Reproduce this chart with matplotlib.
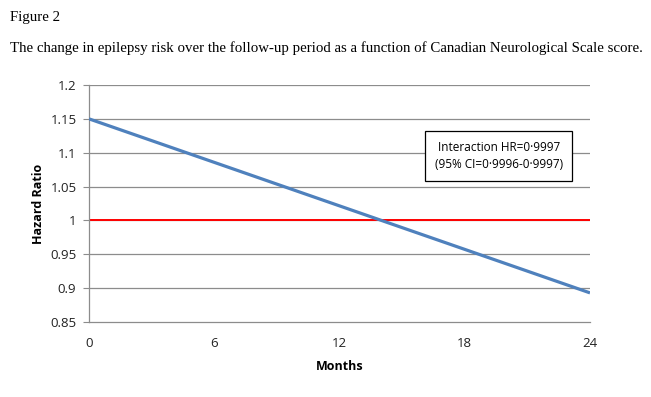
import matplotlib
matplotlib.use("Agg")
import matplotlib.pyplot as plt

months = [0, 24]
hazard_ratio = [1.15, 0.893]
reference = [1.0, 1.0]
x_ticks = [0, 6, 12, 18, 24]
y_ticks = [0.85, 0.9, 0.95, 1.0, 1.05, 1.1, 1.15, 1.2]
y_labels = ["0.85", "0.9", "0.95", "1", "1.05", "1.1", "1.15", "1.2"]

fig = plt.figure(figsize=(6.51, 3.97), dpi=100)
ax = fig.add_axes([89/651, 75/397, 501/651, 237/397])

for y in y_ticks[1:]:
    ax.axhline(y, color="#8c8c8c", lw=0.9, zorder=1)
ax.plot(months, hazard_ratio, color="#4F81BD", lw=2.3, zorder=3, solid_capstyle="butt")
ax.plot(months, reference, color="#FF0000", lw=1.4, zorder=2)

ax.set_xlim(0, 24)
ax.set_ylim(0.85, 1.2)
ax.set_xticks(x_ticks)
ax.set_yticks(y_ticks)
ax.set_yticklabels(y_labels)
for s in ["top", "right"]:
    ax.spines[s].set_visible(False)
for s in ["left", "bottom"]:
    ax.spines[s].set_color("#8c8c8c")
    ax.spines[s].set_linewidth(0.9)
ax.tick_params(axis="y", length=4, color="#8c8c8c", labelsize=9.5, pad=5)
ax.tick_params(axis="x", length=0, labelsize=9.5, pad=11)
for lab in ax.get_xticklabels() + ax.get_yticklabels():
    lab.set_fontfamily("Open Sans")
    lab.set_color("#222222")

ax.set_ylabel("Hazard Ratio", fontfamily="Open Sans", fontweight="bold", fontsize=9, labelpad=4)
ax.set_xlabel("Months", fontfamily="Open Sans", fontweight="bold", fontsize=9, labelpad=7)

ax.text(19.64, 1.095, "Interaction HR=0\u00b79997\n(95% CI=0\u00b79996-0\u00b79997)",
        ha="center", va="center", fontsize=8.5, fontfamily="Open Sans", linespacing=1.45,
        bbox=dict(boxstyle="square,pad=0.8", fc="white", ec="black", lw=0.9), zorder=5)

fig.text(10/651, 1 - 18/397, "Figure 2", fontfamily="Liberation Serif", fontsize=10.7, va="center", ha="left")
fig.text(10/651, 1 - 48/397,
         "The change in epilepsy risk over the follow-up period as a function of Canadian Neurological Scale score.",
         fontfamily="Liberation Serif", fontsize=10.7, va="center", ha="left")

fig.savefig("out.png", dpi=100)
